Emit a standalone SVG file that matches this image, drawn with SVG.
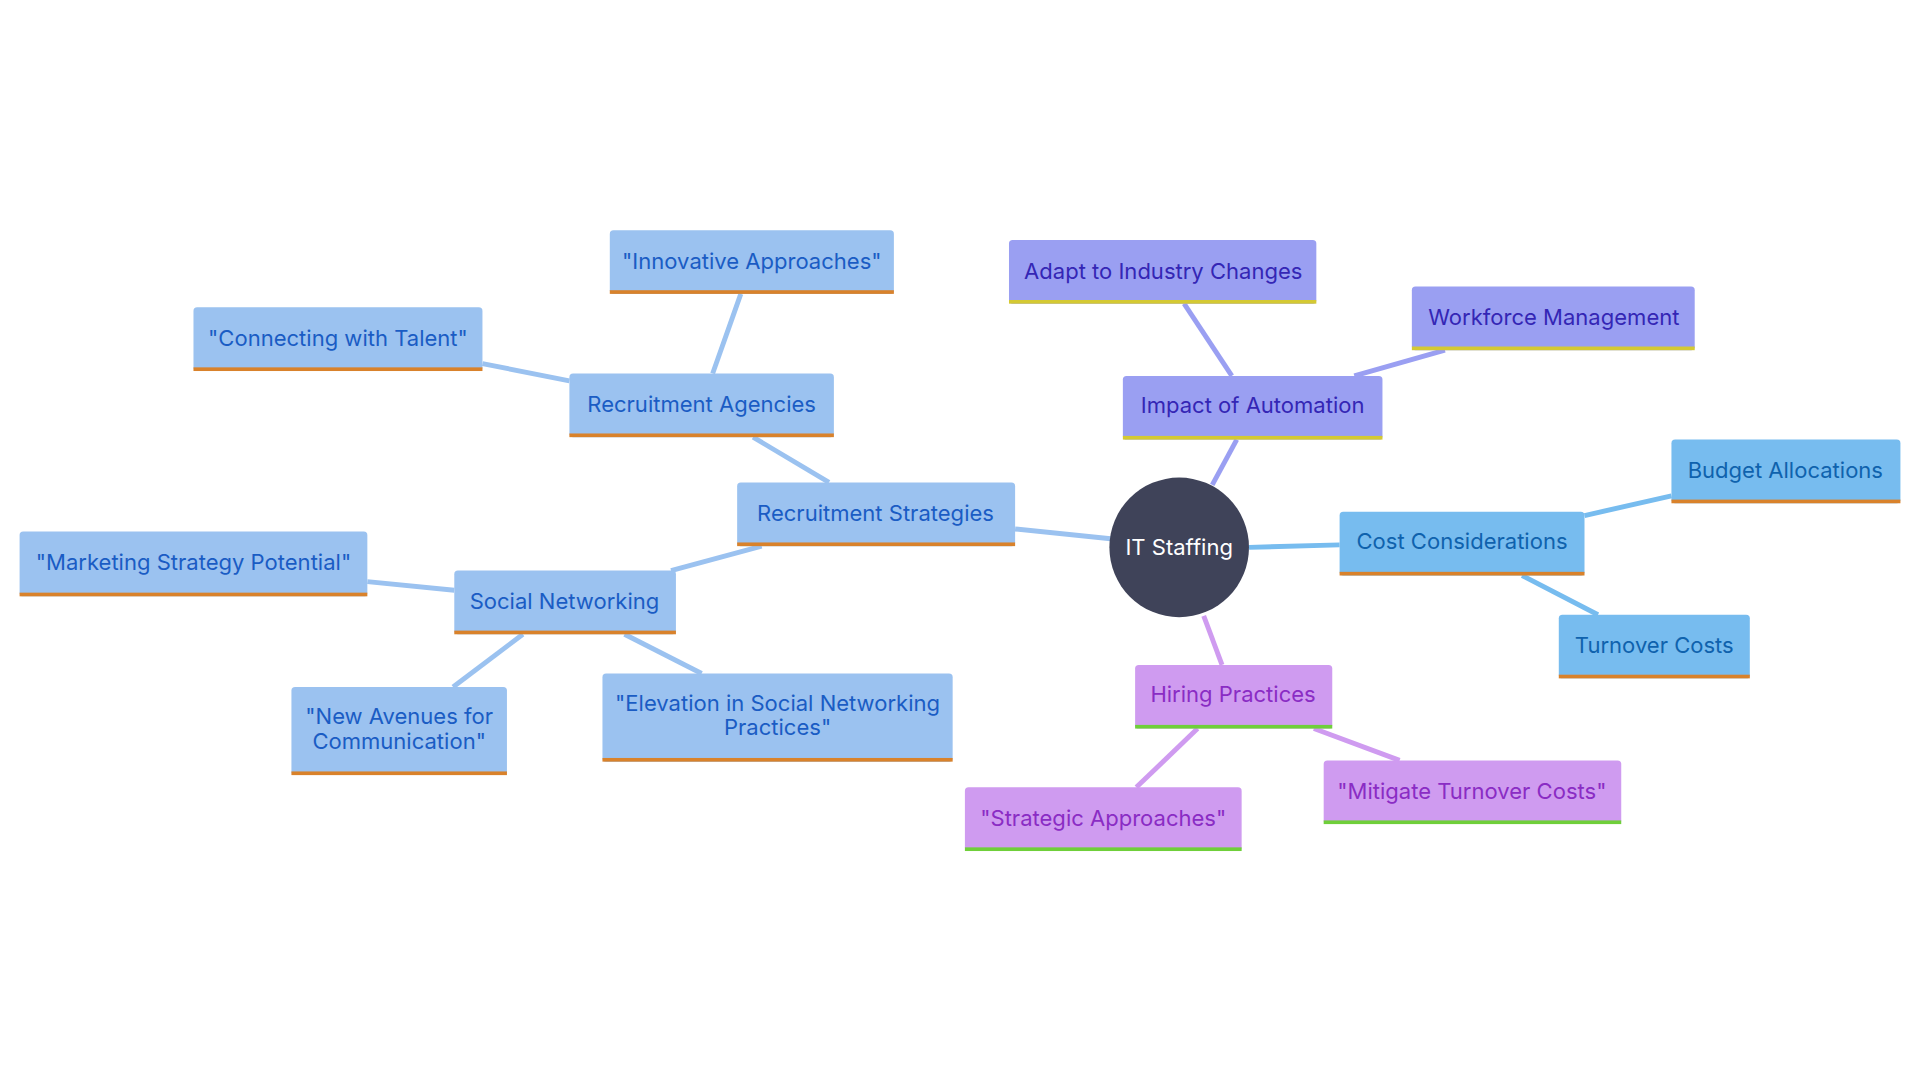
<svg xmlns="http://www.w3.org/2000/svg" width="1920" height="1080" viewBox="0 0 1920 1080">
<style>
text{font-family:Inter,"Noto Sans",sans-serif;font-size:18px;text-anchor:middle;dominant-baseline:central}
.b rect.f{fill:#9bc2f0}.b text{fill:#1a5cc4}
.p rect.f{fill:#9a9ff2}.p text{fill:#3426b5}
.c rect.f{fill:#77bcef}.c text{fill:#0f62ad}
.v rect.f{fill:#cf9bf0}.v text{fill:#8a2cc4}
.ob{fill:#d9822b}.yb{fill:#d4c933}.gb{fill:#6fcf3a}
#edges line{stroke-width:4}
</style>
<rect width="1920" height="1080" fill="#fff"/>
<g transform="scale(1.2245)">
<g id="edges">
<g stroke="#9bc2f0"><line x1="907" y1="440" x2="829" y2="432"/><line x1="677" y1="394" x2="615" y2="357"/><line x1="582" y1="305" x2="605" y2="240"/><line x1="465" y1="311" x2="394" y2="297"/><line x1="622" y1="446" x2="548" y2="466"/><line x1="371" y1="482" x2="300" y2="475"/><line x1="427" y1="518" x2="370" y2="561"/><line x1="510" y1="518" x2="573" y2="550"/></g>
<g stroke="#9a9ff2"><line x1="990" y1="396" x2="1010" y2="359"/><line x1="1006" y1="307" x2="967" y2="248"/><line x1="1106" y1="307" x2="1180" y2="286"/></g>
<g stroke="#77bcef"><line x1="1020" y1="447" x2="1094" y2="445"/><line x1="1294" y1="421" x2="1365" y2="405"/><line x1="1243" y1="470" x2="1305" y2="502"/></g>
<g stroke="#cf9bf0"><line x1="983" y1="503" x2="998" y2="543"/><line x1="978" y1="595" x2="928" y2="643"/><line x1="1073" y1="595" x2="1143" y2="621"/></g>
</g>
<g id="n0"><circle cx="963" cy="447" r="57" fill="#3f4359"/><text x="963" y="447" fill="#fff">IT Staffing</text></g>
<g id="n1" class="b"><rect class="f" x="602" y="394" width="227" height="52" rx="3"/><rect class="ob" x="602" y="443" width="227" height="3"/><text x="715" y="419">Recruitment Strategies</text></g>
<g id="n2" class="b"><rect class="f" x="465" y="305" width="216" height="52" rx="3"/><rect class="ob" x="465" y="354" width="216" height="3"/><text x="573" y="330">Recruitment Agencies</text></g>
<g id="n3" class="b"><rect class="f" x="498" y="188" width="232" height="52" rx="3"/><rect class="ob" x="498" y="237" width="232" height="3"/><text x="614" y="213">"Innovative Approaches"</text></g>
<g id="n4" class="b"><rect class="f" x="158" y="251" width="236" height="52" rx="3"/><rect class="ob" x="158" y="300" width="236" height="3"/><text x="276" y="276">"Connecting with Talent"</text></g>
<g id="n5" class="b"><rect class="f" x="371" y="466" width="181" height="52" rx="3"/><rect class="ob" x="371" y="515" width="181" height="3"/><text x="461" y="491">Social Networking</text></g>
<g id="n6" class="b"><rect class="f" x="16" y="434" width="284" height="53" rx="3"/><rect class="ob" x="16" y="484" width="284" height="3"/><text x="158" y="459">"Marketing Strategy Potential"</text></g>
<g id="n7" class="b"><rect class="f" x="238" y="561" width="176" height="72" rx="3"/><rect class="ob" x="238" y="630" width="176" height="3"/><text x="326" y="585">"New Avenues for</text><text x="326" y="605">Communication"</text></g>
<g id="n8" class="b"><rect class="f" x="492" y="550" width="286" height="72" rx="3"/><rect class="ob" x="492" y="619" width="286" height="3"/><text x="635" y="574">"Elevation in Social Networking</text><text x="635" y="594">Practices"</text></g>
<g id="n9" class="p"><rect class="f" x="917" y="307" width="212" height="52" rx="3"/><rect class="yb" x="917" y="356" width="212" height="3"/><text x="1023" y="331">Impact of Automation</text></g>
<g id="n10" class="p"><rect class="f" x="824" y="196" width="251" height="52" rx="3"/><rect class="yb" x="824" y="245" width="251" height="3"/><text x="950" y="221">Adapt to Industry Changes</text></g>
<g id="n11" class="p"><rect class="f" x="1153" y="234" width="231" height="52" rx="3"/><rect class="yb" x="1153" y="283" width="231" height="3"/><text x="1269" y="259">Workforce Management</text></g>
<g id="n12" class="c"><rect class="f" x="1094" y="418" width="200" height="52" rx="3"/><rect class="ob" x="1094" y="467" width="200" height="3"/><text x="1194" y="442">Cost Considerations</text></g>
<g id="n13" class="c"><rect class="f" x="1365" y="359" width="187" height="52" rx="3"/><rect class="ob" x="1365" y="408" width="187" height="3"/><text x="1458" y="384">Budget Allocations</text></g>
<g id="n14" class="c"><rect class="f" x="1273" y="502" width="156" height="52" rx="3"/><rect class="ob" x="1273" y="551" width="156" height="3"/><text x="1351" y="527">Turnover Costs</text></g>
<g id="n15" class="v"><rect class="f" x="927" y="543" width="161" height="52" rx="3"/><rect class="gb" x="927" y="592" width="161" height="3"/><text x="1007" y="567">Hiring Practices</text></g>
<g id="n16" class="v"><rect class="f" x="788" y="643" width="226" height="52" rx="3"/><rect class="gb" x="788" y="692" width="226" height="3"/><text x="901" y="668">"Strategic Approaches"</text></g>
<g id="n17" class="v"><rect class="f" x="1081" y="621" width="243" height="52" rx="3"/><rect class="gb" x="1081" y="670" width="243" height="3"/><text x="1202" y="646">"Mitigate Turnover Costs"</text></g>
</g>
</svg>
